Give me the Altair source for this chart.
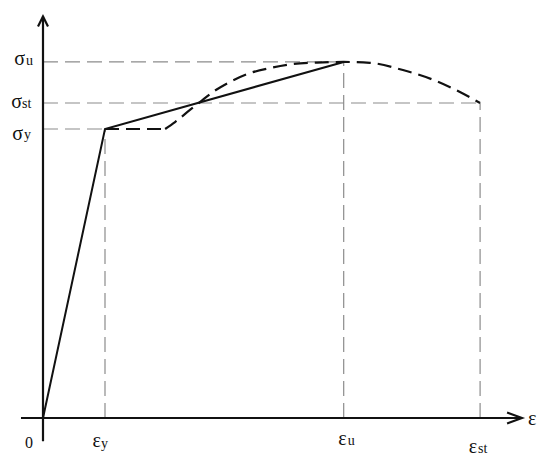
import altair as alt
import pandas as pd

# ---- values (schematic stress-strain diagram) ----
# characteristic strains (arbitrary units)
eps_y, eps_u, eps_st = 2.0, 9.7, 14.1
# characteristic stresses (normalised to yield stress)
sig_y, sig_st, sig_u = 1.0, 1.09, 1.232

# solid idealised (bilinear) model
bilin_eps = [0.0, eps_y, eps_u]
bilin_sig = [0.0, sig_y, sig_u]

# dashed real curve: yield plateau ...
plateau_eps = [2.0, 3.94]
plateau_sig = [1.0, 1.0]
# ... then strain hardening and softening
curve_eps = [3.94, 4.26, 4.74, 5.06, 5.48, 6.03, 6.58, 7.32, 8.06, 8.84, 9.7,
             10.55, 11.61, 12.71, 13.45, 14.1]
curve_sig = [1.0, 1.024, 1.066, 1.093, 1.128, 1.163, 1.190, 1.211, 1.225, 1.230, 1.232,
             1.229, 1.204, 1.165, 1.128, 1.09]

# axis extents
x_axis_ext = [-0.71, 15.45]
y_axis_ext = [-0.08, 1.389]

# label texts
sig_main = ["σ", "σ", "σ"]
sig_sub = ["u", "st", "y"]
eps_main = ["ε", "ε", "ε"]
eps_sub = ["y", "u", "st"]

# ---- styling ----
FONT = "Liberation Serif"
INK = "#111111"
GREY = "#8c8c8c"
W, H = 534, 452
X_DOMAIN = [-1.129, 16.097]
Y_DOMAIN = [-0.1453, 1.4187]

xs = alt.Scale(domain=X_DOMAIN, nice=False, zero=False)
ys = alt.Scale(domain=Y_DOMAIN, nice=False, zero=False)


def X(f="x"):
    return alt.X(f"{f}:Q", scale=xs, axis=None)


def Y(f="y"):
    return alt.Y(f"{f}:Q", scale=ys, axis=None)


# gray dashed guide lines
h_guides = pd.DataFrame({"x": [0.0, 0.0, 0.0], "x2": [eps_u, eps_st, eps_y],
                         "y": [sig_u, sig_st, sig_y]})
v_guides = pd.DataFrame({"x": [eps_y, eps_u, eps_st], "y": [0.0, 0.0, 0.0],
                         "y2": [sig_y, sig_u, sig_st]})

hg = alt.Chart(h_guides).mark_rule(color=GREY, strokeWidth=1.2, strokeDash=[15, 7]).encode(
    x=X(), x2="x2:Q", y=Y())
vg = alt.Chart(v_guides).mark_rule(color=GREY, strokeWidth=1.2, strokeDash=[15, 7]).encode(
    x=X(), y=Y(), y2="y2:Q")

bilin = alt.Chart(pd.DataFrame({"x": bilin_eps, "y": bilin_sig, "o": range(3)})).mark_line(
    color=INK, strokeWidth=2).encode(x=X(), y=Y(), order="o:Q")

plateau = alt.Chart(pd.DataFrame({"x": plateau_eps, "y": plateau_sig, "o": range(2)})).mark_line(
    color=INK, strokeWidth=2.2, strokeDash=[14, 7]).encode(x=X(), y=Y(), order="o:Q")

curve = alt.Chart(pd.DataFrame({"x": curve_eps, "y": curve_sig, "o": range(len(curve_eps))})).mark_line(
    color=INK, strokeWidth=2.2, strokeDash=[14, 7], interpolate="monotone").encode(
    x=X(), y=Y(), order="o:Q")

# axes
xaxis = alt.Chart(pd.DataFrame({"x": [x_axis_ext[0]], "x2": [x_axis_ext[1]], "y": [0.0]})).mark_rule(
    color=INK, strokeWidth=2.2).encode(x=X(), x2="x2:Q", y=Y())
yaxis = alt.Chart(pd.DataFrame({"x": [0.0], "y": [y_axis_ext[0]], "y2": [y_axis_ext[1]]})).mark_rule(
    color=INK, strokeWidth=2.2).encode(x=X(), y=Y(), y2="y2:Q")

x_arrow = alt.Chart(pd.DataFrame({"x": [x_axis_ext[1]], "y": [0.0]})).mark_point(
    shape="M-2.7,-1L0,0L-2.7,1", size=121, filled=False, stroke=INK, strokeWidth=2.2,
    opacity=1).encode(x=X(), y=Y())
y_arrow = alt.Chart(pd.DataFrame({"x": [0.0], "y": [y_axis_ext[1]]})).mark_point(
    shape="M-1,2L0,0L1,2", size=100, filled=False, stroke=INK, strokeWidth=2.2,
    opacity=1).encode(x=X(), y=Y())


def lbl(text, x, y, size, align, dx, dy):
    return alt.Chart(pd.DataFrame({"x": [x], "y": [y], "t": [text]})).mark_text(
        font=FONT, fontSize=size, align=align, baseline="alphabetic", dx=dx, dy=dy,
        color=INK).encode(x=X(), y=Y(), text="t:N")


MAIN, SUB = 20, 14
labels = [
    # stress labels
    lbl(sig_main[0], 0.0, sig_u, MAIN, "right", -18, 3),
    lbl(sig_sub[0], 0.0, sig_u, SUB, "left", -17, 3),
    lbl(sig_main[1], 0.0, sig_st, MAIN, "right", -21, 5),
    lbl(sig_sub[1], 0.0, sig_st, SUB, "left", -21, 5),
    lbl(sig_main[2], 0.0, sig_y, MAIN, "right", -20, 11),
    lbl(sig_sub[2], 0.0, sig_y, SUB, "left", -19, 10),
    # strain labels
    lbl("0", 0.0, 0.0, 16, "center", -14, 30),
    lbl(eps_main[0], eps_y, 0.0, MAIN, "right", -4, 29),
    lbl(eps_sub[0], eps_y, 0.0, SUB, "left", -4, 30),
    lbl(eps_main[1], eps_u, 0.0, MAIN, "right", 3, 27),
    lbl(eps_sub[1], eps_u, 0.0, SUB, "left", 4, 27),
    lbl(eps_main[2], eps_st, 0.0, MAIN, "right", -3, 35),
    lbl(eps_sub[2], eps_st, 0.0, SUB, "left", -2, 35),
    lbl("ε", x_axis_ext[1], 0.0, MAIN, "left", 6, 7),
]

chart = alt.layer(hg, vg, plateau, curve, bilin, xaxis, yaxis, x_arrow, y_arrow, *labels).properties(
    width=W, height=H, autosize=alt.AutoSizeParams(type="none"), padding=0,
    background="white").configure_view(stroke=None)

chart.save("out.html", embed_options={"renderer": "svg", "actions": False})
